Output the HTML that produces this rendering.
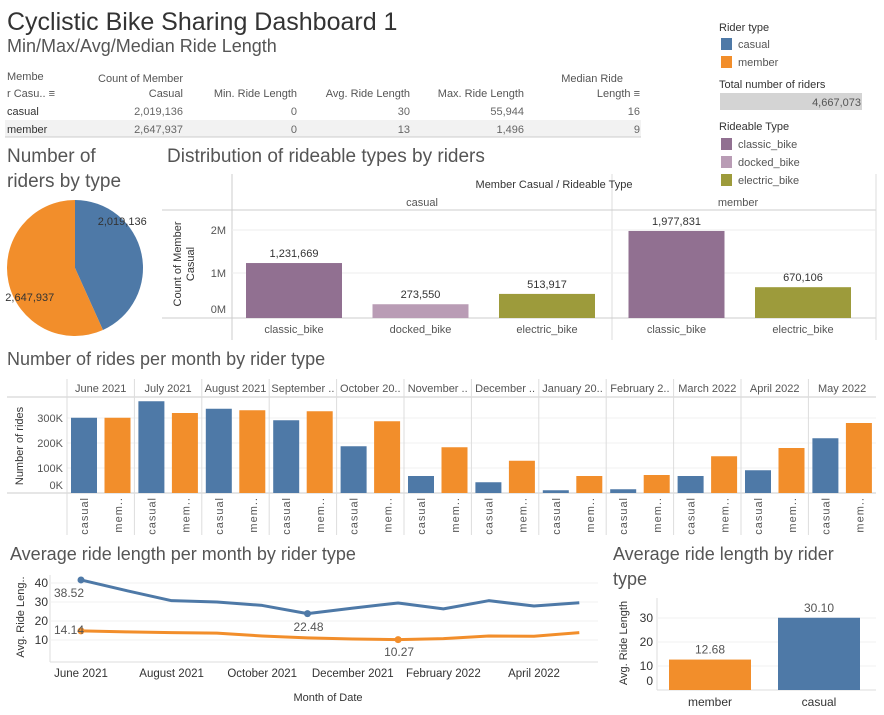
<!DOCTYPE html>
<html><head><meta charset="utf-8">
<style>
html,body{margin:0;padding:0;background:#fff;}
svg{display:block;font-family:"Liberation Sans",sans-serif;}
</style></head>
<body>
<svg id="dash" width="884" height="715" viewBox="0 0 884 715" xmlns="http://www.w3.org/2000/svg">
<text x="7" y="30" font-size="25" fill="#333">Cyclistic Bike Sharing Dashboard 1</text>
<text x="7" y="52" font-size="18" fill="#555">Min/Max/Avg/Median Ride Length</text>

<g id="table" font-size="11" fill="#555">
<text x="7" y="80">Membe</text>
<text x="7" y="97">r Casu.. ≡</text>
<text x="183" y="82" text-anchor="end">Count of Member</text>
<text x="183" y="97" text-anchor="end">Casual</text>
<text x="297" y="97" text-anchor="end">Min. Ride Length</text>
<text x="410" y="97" text-anchor="end">Avg. Ride Length</text>
<text x="524" y="97" text-anchor="end">Max. Ride Length</text>
<text x="623" y="82" text-anchor="end">Median Ride</text>
<text x="640" y="97" text-anchor="end">Length ≡</text>
<rect x="5" y="120" width="636" height="17" fill="#f2f2f2"/>
<line x1="5" y1="137" x2="641" y2="137" stroke="#ccc"/>
<g fill="#333">
<text x="7" y="115">casual</text>
<text x="183" y="115" text-anchor="end" fill="#666">2,019,136</text>
<text x="297" y="115" text-anchor="end" fill="#666">0</text>
<text x="410" y="115" text-anchor="end" fill="#666">30</text>
<text x="524" y="115" text-anchor="end" fill="#666">55,944</text>
<text x="640" y="115" text-anchor="end" fill="#666">16</text>
</g>
<g fill="#333">
<text x="7" y="133">member</text>
<text x="183" y="133" text-anchor="end" fill="#666">2,647,937</text>
<text x="297" y="133" text-anchor="end" fill="#666">0</text>
<text x="410" y="133" text-anchor="end" fill="#666">13</text>
<text x="524" y="133" text-anchor="end" fill="#666">1,496</text>
<text x="640" y="133" text-anchor="end" fill="#666">9</text>
</g>
</g>

<g font-size="11" fill="#333">
<text x="719" y="31">Rider type</text>
<rect x="721" y="38" width="11" height="12" fill="#4e79a7"/>
<text x="738" y="48" fill="#555">casual</text>
<rect x="721" y="56" width="11" height="12" fill="#f28e2b"/>
<text x="738" y="66" fill="#555">member</text>
<text x="719" y="88">Total number of riders</text>
<rect x="720" y="93" width="142" height="17" fill="#d4d4d4"/>
<text x="861" y="106" text-anchor="end" fill="#555">4,667,073</text>
<text x="719" y="130">Rideable Type</text>
<rect x="721" y="138" width="11" height="12" fill="#917091"/>
<text x="738" y="148" fill="#555">classic_bike</text>
<rect x="721" y="156" width="11" height="12" fill="#b99cb5"/>
<text x="738" y="166" fill="#555">docked_bike</text>
<rect x="721" y="174" width="11" height="12" fill="#9d9b3b"/>
<text x="738" y="184" fill="#555">electric_bike</text>
</g>

<text x="7" y="162" font-size="19" fill="#555">Number of</text>
<text x="7" y="187" font-size="19" fill="#555">riders by type</text>
<g id="pie"></g>

<text x="167" y="162" font-size="19" fill="#555">Distribution of rideable types by riders</text>
<g id="rideable" font-size="11" fill="#555"></g>

<text x="7" y="365" font-size="18" fill="#555">Number of rides per month by rider type</text>
<g id="monthly" font-size="11" fill="#555"></g>

<text x="10" y="560" font-size="18" fill="#555">Average ride length per month by rider type</text>
<g id="line" font-size="11" fill="#555"></g>

<text x="613" y="560" font-size="18" fill="#555">Average ride length by rider</text>
<text x="613" y="585" font-size="18" fill="#555">type</text>
<g id="avgtype" font-size="11" fill="#555"></g>
</svg>
<script>
const NS="http://www.w3.org/2000/svg";
function mk(parent,tag,attrs,text){const e=document.createElementNS(NS,tag);for(const k in attrs)e.setAttribute(k,attrs[k]);if(text!==undefined)e.textContent=text;parent.appendChild(e);return e;}
const BLUE="#4e79a7",ORANGE="#f28e2b";

// ---- pie data
const pieLabels=["casual","member"];
const pieValues=[2019136,2647937];
// ---- rideable data
const rideGroups=["casual","casual","casual","member","member"];
const rideTypes=["classic_bike","docked_bike","electric_bike","classic_bike","electric_bike"];
const rideValues=[1231669,273550,513917,1977831,670106];
const rideTicks=[0,1000000,2000000];
const rideTickLabels=["0M","1M","2M"];
// ---- monthly data
const months=["June 2021","July 2021","August 2021","September ..","October 20..","November ..","December ..","January 20..","February 2..","March 2022","April 2022","May 2022"];
const casualRides=[301000,367000,337000,291000,187000,68000,43000,11000,15000,68000,91000,219000];
const memberRides=[301000,320000,331000,327000,287000,183000,129000,68000,72000,147000,180000,280000];
const rideCountTicks=[0,100000,200000,300000];
const rideCountTickLabels=["0K","100K","200K","300K"];
// ---- line data
const casualAvg=[41.6,36,30.7,30,28.2,23.9,26.8,29.5,26.4,30.7,27.9,29.6];
const memberAvg=[14.8,14.3,13.9,13.6,12.1,11.1,10.5,10.2,10.7,12.1,12,13.9];
const lineTicks=[10,20,30,40];
const lineXLabels=["June 2021","August 2021","October 2021","December 2021","February 2022","April 2022"];
const lineXLabelIdx=[0,2,4,6,8,10];
// ---- avg by type
const avgTypeLabels=["member","casual"];
const avgTypeValues=[12.68,30.10];
const avgTypeTicks=[0,10,20,30];

// ===== Pie
(function(){
 const g=document.getElementById('pie');const cx=75,cy=268,r=68;
 const tot=pieValues.reduce((a,b)=>a+b,0);let a0=0;
 const cols=[BLUE,ORANGE];
 const labelShiftX=[6,-4],labelShiftY=[-38,20];
 pieValues.forEach((v,i)=>{
  const a1=a0+v/tot*2*Math.PI;
  const x0=cx+r*Math.sin(a0),y0=cy-r*Math.cos(a0),x1=cx+r*Math.sin(a1),y1=cy-r*Math.cos(a1);
  const p=mk(g,'path',{d:`M${cx},${cy}L${x0},${y0}A${r},${r} 0 ${a1-a0>Math.PI?1:0} 1 ${x1},${y1}Z`,fill:cols[i]});
  
  
  const am=(a0+a1)/2;
  const t=mk(g,'text',{x:cx+r*0.62*Math.sin(am)+labelShiftX[i],y:cy-r*0.62*Math.cos(am)+4+labelShiftY[i],'text-anchor':'middle','font-size':'11',fill:'#333'},v.toLocaleString('en-US'));
  
  
  a0=a1;
 });
})();

// ===== Rideable bars
(function(){
 const g=document.getElementById('rideable');
 const y0=316,pxPerM=43;const y=v=>y0-v/1e6*pxPerM;
 const slotW=126.5,left=232;
 [[232,174,232,340],[612,174,612,340],[162,210,876,210],[162,318,876,318],[876,174,876,340]].forEach((l,i)=>{const e=mk(g,'line',{x1:l[0],y1:l[1],x2:l[2],y2:l[3],stroke:i==1||i==4?'#ddd':'#ccc'});});
 let t=mk(g,'text',{x:554,y:188,'text-anchor':'middle',fill:'#333','font-size':'11'},'Member Casual / Rideable Type');
 t=mk(g,'text',{x:422,y:206,'text-anchor':'middle'},'casual');
 t=mk(g,'text',{x:738,y:206,'text-anchor':'middle'},'member');
 t=mk(g,'text',{transform:'translate(181,264) rotate(-90)','text-anchor':'middle',fill:'#333'},'Count of Member');
 t=mk(g,'text',{transform:'translate(194,264) rotate(-90)','text-anchor':'middle',fill:'#333'},'Casual');
 rideTicks.forEach((v,i)=>{
  if(v>0){const gl=mk(g,'line',{x1:232,x2:876,y1:y(v),y2:y(v),stroke:'#eee'});}
  const tt=mk(g,'text',{x:226,y:Math.min(y(v)+4,313),'text-anchor':'end'},rideTickLabels[i]);
 });
 const colMap={classic_bike:'#917091',docked_bike:'#b99cb5',electric_bike:'#9d9b3b'};
 rideValues.forEach((v,i)=>{
  const xc=left+slotW*i+ (i>=3?3:0)+62;
  const b=mk(g,'rect',{x:xc-48,y:y(v),width:96,height:y0+2-y(v),fill:colMap[rideTypes[i]]});
  
  
  const l=mk(g,'text',{x:xc,y:y(v)-6,'text-anchor':'middle',fill:'#333'},v.toLocaleString('en-US'));
  
  
  const xl=mk(g,'text',{x:xc,y:333,'text-anchor':'middle'},rideTypes[i]);
  
  
 });
})();

// ===== Monthly bars
(function(){
 const g=document.getElementById('monthly');
 const left=67,colW=67.4,base=493,px=25/100000;const y=v=>base-v*px;
 let e=mk(g,'line',{x1:7,x2:876,y1:397,y2:397,stroke:'#ccc'});
 e=mk(g,'line',{x1:7,x2:876,y1:493,y2:493,stroke:'#ccc'});
 rideCountTicks.forEach((v,i)=>{
  if(v>0){const gl=mk(g,'line',{x1:67,x2:876,y1:y(v),y2:y(v),stroke:'#f0f0f0'});}
  const t=mk(g,'text',{x:63,y:Math.min(y(v)+4,489),'text-anchor':'end'},rideCountTickLabels[i]);
 });
 e=mk(g,'text',{transform:'translate(23,446) rotate(-90)','text-anchor':'middle',fill:'#333'},'Number of rides');
 months.forEach((m,i)=>{
  const x0=left+colW*i;
  const sep=mk(g,'line',{x1:x0,x2:x0,y1:379,y2:535,stroke:'#ddd'});
  const h=mk(g,'text',{x:x0+colW/2,y:392,'text-anchor':'middle'},m);
  const bc=mk(g,'rect',{x:x0+4,y:y(casualRides[i]),width:26,height:base-y(casualRides[i]),fill:BLUE});
  
  
  const bm=mk(g,'rect',{x:x0+37.5,y:y(memberRides[i]),width:26,height:base-y(memberRides[i]),fill:ORANGE});
  
  
  const lc=mk(g,'text',{transform:`translate(${x0+21},497) rotate(-90)`,'text-anchor':'end','letter-spacing':'1'},'casual');
  const lm=mk(g,'text',{transform:`translate(${x0+55},497) rotate(-90)`,'text-anchor':'end','letter-spacing':'1'},'mem..');
 });
})();

// ===== Line chart
(function(){
 const g=document.getElementById('line');
 const x=i=>81+i*45.3;const y=v=>640-(v-10)*1.9;
 let e=mk(g,'line',{x1:50,x2:598,y1:662,y2:662,stroke:'#ddd'});
 e=mk(g,'line',{x1:50,x2:50,y1:575,y2:662,stroke:'#ddd'});
 lineTicks.forEach(v=>{
  const gl=mk(g,'line',{x1:50,x2:598,y1:y(v),y2:y(v),stroke:'#f0f0f0'});
  const t=mk(g,'text',{x:48,y:y(v)+4,'text-anchor':'end','font-size':'12',fill:'#333'},String(v));
 });
 e=mk(g,'text',{transform:'translate(24,617) rotate(-90)','text-anchor':'middle',fill:'#333'},'Avg. Ride Leng..');
 lineXLabelIdx.forEach((idx,i)=>{
  const t=mk(g,'text',{x:x(idx),y:677,'text-anchor':'middle','font-size':'11.5',fill:'#333'},lineXLabels[i]);
 });
 e=mk(g,'text',{x:328,y:701,'text-anchor':'middle',fill:'#333'},'Month of Date');
 [[casualAvg,BLUE,'casual'],[memberAvg,ORANGE,'member']].forEach(([arr,c,n])=>{
  const p=mk(g,'polyline',{points:arr.map((v,i)=>x(i)+','+y(v)).join(' '),fill:'none',stroke:c,'stroke-width':'3','stroke-linejoin':'round'});
  
  
  const iMin=arr.indexOf(Math.min(...arr));
  [0,iMin].forEach(i=>{const d=mk(g,'circle',{cx:x(i),cy:y(arr[i]),r:3.5,fill:c});});
 });
 const lab=(txt,xx,yy,n)=>{const t=mk(g,'text',{x:xx,y:yy,'font-size':'12',fill:'#555','text-anchor':'middle'},txt);};
 lab('38.52',69,597,'line-label-casual-start');
 lab('22.48',x(5)+1,631,'line-label-casual-min');
 lab('14.14',69,634,'line-label-member-start');
 lab('10.27',x(7)+1,656,'line-label-member-min');
})();

// ===== Avg by type
(function(){
 const g=document.getElementById('avgtype');
 const base=690;const y=v=>base-v*2.4;
 let e=mk(g,'line',{x1:657,x2:876,y1:690,y2:690,stroke:'#ddd'});
 e=mk(g,'line',{x1:657,x2:657,y1:598,y2:690,stroke:'#ddd'});
 avgTypeTicks.forEach(v=>{
  if(v>0){const gl=mk(g,'line',{x1:657,x2:876,y1:y(v),y2:y(v),stroke:'#f0f0f0'});}
  const t=mk(g,'text',{x:653,y:Math.min(y(v)+4,685),'text-anchor':'end','font-size':'12',fill:'#333'},String(v));
 });
 e=mk(g,'text',{transform:'translate(627,643) rotate(-90)','text-anchor':'middle',fill:'#333'},'Avg. Ride Length');
 const cols=[ORANGE,BLUE];
 avgTypeValues.forEach((v,i)=>{
  const xc=710+i*109;
  const b=mk(g,'rect',{x:xc-41,y:y(v),width:82,height:base-y(v),fill:cols[i]});
  
  
  const l=mk(g,'text',{x:xc,y:y(v)-6,'text-anchor':'middle','font-size':'12',fill:'#555'},v.toFixed(2));
  
  
  const xl=mk(g,'text',{x:xc,y:706,'text-anchor':'middle','font-size':'12',fill:'#333'},avgTypeLabels[i]);
  
  
 });
})();
</script>
</body></html>
